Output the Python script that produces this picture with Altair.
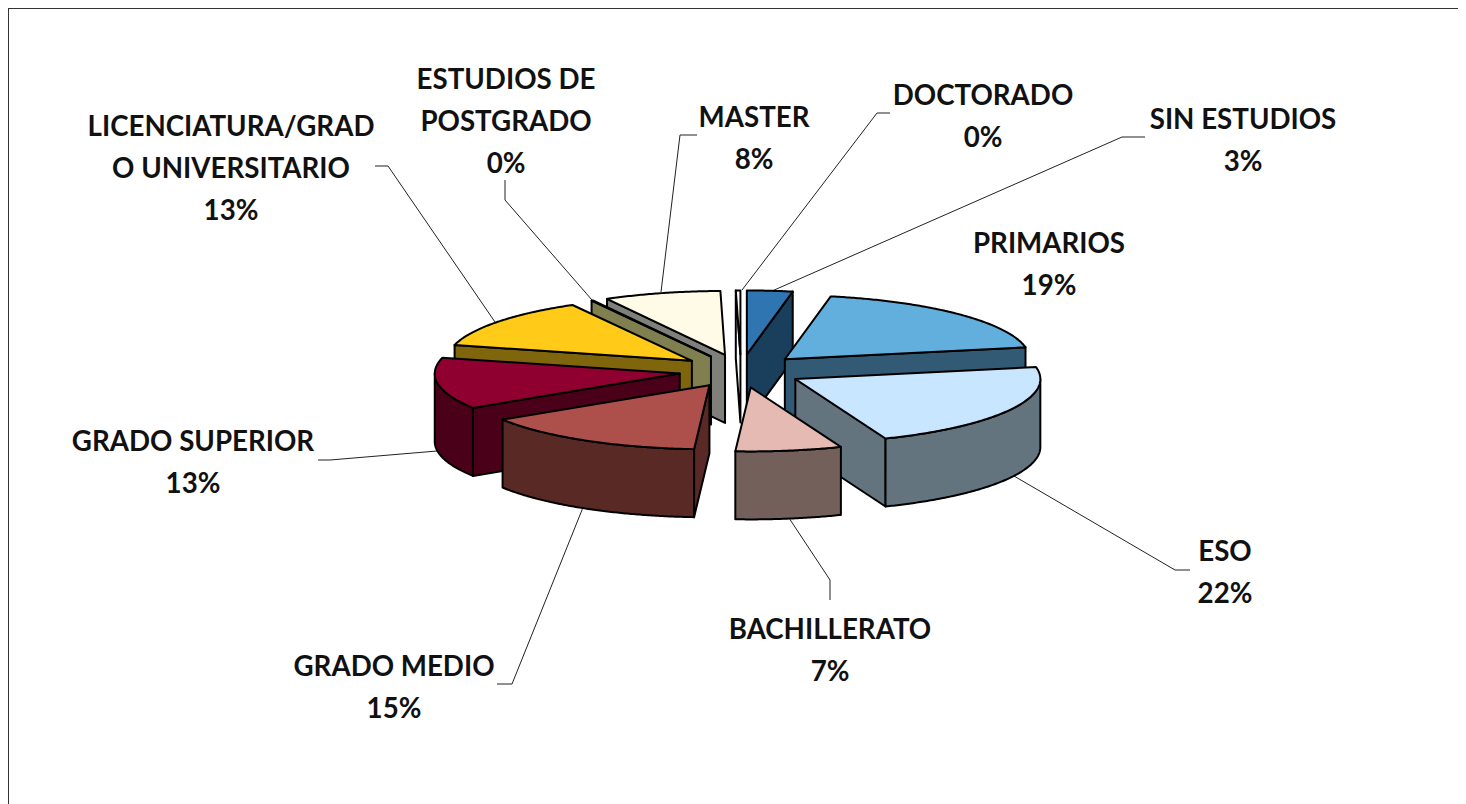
import math
import altair as alt
import pandas as pd

categories = ["SIN ESTUDIOS", "PRIMARIOS", "ESO", "BACHILLERATO", "GRADO MEDIO",
              "GRADO SUPERIOR", "LICENCIATURA/GRADO UNIVERSITARIO",
              "ESTUDIOS DE POSTGRADO", "MASTER", "DOCTORADO"]
values = [3, 19, 22, 7, 15, 13, 12.9, 0.1, 7.7, 0.3]
top_colors = ["#2E75B2", "#62AFDE", "#C8E6FF", "#E4BAB2", "#AD504C",
              "#8F0030", "#FFCA18", "#7F7F50", "#FFFBE6", "#FFFFFF"]
side_colors = ["#1A3F5C", "#335A75", "#63747F", "#73605A", "#592926",
               "#4A0018", "#7F650C", "#7F7F50", "#80807A", "#FFFFFF"]
draw_order = [8, 9, 0, 7, 6, 1, 5, 2, 4, 3]

label_lines = [["SIN ESTUDIOS"], ["PRIMARIOS"], ["ESO"], ["BACHILLERATO"], ["GRADO MEDIO"],
               ["GRADO SUPERIOR"], ["LICENCIATURA/GRAD", "O UNIVERSITARIO"],
               ["ESTUDIOS DE", "POSTGRADO"], ["MASTER"], ["DOCTORADO"]]
# layout: centre of the label block's first line, and leader polylines (page pixels)
label_pos = [(1243, 120.5), (1049, 244.5), (1225, 552.5), (830, 630.5), (394, 667.5),
             (193, 442.5), (231, 127.5), (506, 80.5), (754, 118.5), (983, 96.5)]
leaders = [[(1145, 137), (1122, 137), (772, 291)],
           None,
           [(1190, 570), (1175, 570), (1014, 476)],
           [(830, 600), (830, 580), (789, 518)],
           [(497, 684), (512, 684), (584, 505)],
           [(318, 460), (330, 460), (437, 451)],
           [(375, 166), (388, 166), (495, 322)],
           [(505, 180), (505, 200), (592, 300)],
           [(697, 135), (680, 135), (661, 292)],
           [(890, 113), (877, 113), (742, 290)]]

# 3-D view parameters (page pixels)
CX, CY = 741, 371
RX, RY = 245, 64
EX, EY = 62, 16.6
H = 68
FRAME = [(1458, 8), (8, 8), (8, 804)]


def feature(ring, fill):
    return {"type": "Feature", "properties": {"fill": fill},
            "geometry": {"type": "Polygon",
                         "coordinates": [[list(p) for p in ring] + [list(ring[0])]]}}


def line_feature(points):
    return {"type": "Feature", "properties": {},
            "geometry": {"type": "LineString", "coordinates": [list(p) for p in points]}}


total = sum(values)
spans = []
acc = 0.0
for v in values:
    spans.append((acc * 360 / total, (acc + v) * 360 / total))
    acc += v

faces = []
for i in draw_order:
    a0, a1 = spans[i]
    mid = math.radians((a0 + a1) / 2)
    ax = CX + EX * math.sin(mid)
    ay = CY - EY * math.cos(mid)

    def rim(deg, dz=0.0):
        t = math.radians(deg)
        return (ax + RX * math.sin(t), ay - RY * math.cos(t) + dz)

    steps = max(2, int(a1 - a0) * 2)
    degs = [a0 + (a1 - a0) * k / steps for k in range(steps + 1)]
    apex, apex_low = (ax, ay), (ax, ay + H)
    # radial faces that look towards the viewer
    if math.sin(math.radians(a1)) > 0:
        faces.append(feature([apex, rim(a1), rim(a1, H), apex_low], side_colors[i]))
    if math.sin(math.radians(a0)) < 0 or values[i] < 1:
        faces.append(feature([apex, rim(a0), rim(a0, H), apex_low], side_colors[i]))
    # outer wall
    front = [d for d in degs if 90 <= d <= 270]
    lo, hi = max(a0, 90), min(a1, 270)
    if hi > lo:
        front = sorted(set(front + [lo, hi]))
        faces.append(feature([rim(d) for d in front] + [rim(d, H) for d in reversed(front)],
                             side_colors[i]))
    # top
    faces.append(feature([apex] + [rim(d) for d in degs], top_colors[i]))

line_features = [line_feature(l) for l in leaders if l]

rows = []
for i, lines in enumerate(label_lines):
    x, y = label_pos[i]
    all_lines = lines + [f"{round(values[i])}%"]
    for k, t in enumerate(all_lines):
        rows.append({"lon": x, "lat": y + k * 42.3, "text": t})
labels = pd.DataFrame(rows)

solid = alt.Chart(alt.Data(values=faces)).mark_geoshape(
    stroke="black", strokeWidth=2, strokeJoin="round"
).encode(fill=alt.Fill("properties.fill:N", scale=None))

leader_layer = alt.Chart(alt.Data(values=line_features)).mark_geoshape(
    filled=False, stroke="#222222", strokeWidth=1
)
frame_layer = alt.Chart(alt.Data(values=[line_feature(FRAME)])).mark_geoshape(
    filled=False, stroke="#333333", strokeWidth=2
)
text_layer = alt.Chart(labels).mark_text(
    font="Lato", fontWeight="bold", fontSize=27.7, color="#111111", align="center", baseline="middle"
).encode(longitude="lon:Q", latitude="lat:Q", text="text:N")

chart = alt.layer(frame_layer, leader_layer, solid, text_layer).project(
    type="identity", scale=1, translate=[-8, -8]
).properties(
    width=1450, height=796, padding=0, autosize=alt.AutoSizeParams(type="none")
).configure_view(stroke=None).configure(background="white")

chart.save("out.html", embed_options={"renderer": "svg", "actions": False})
